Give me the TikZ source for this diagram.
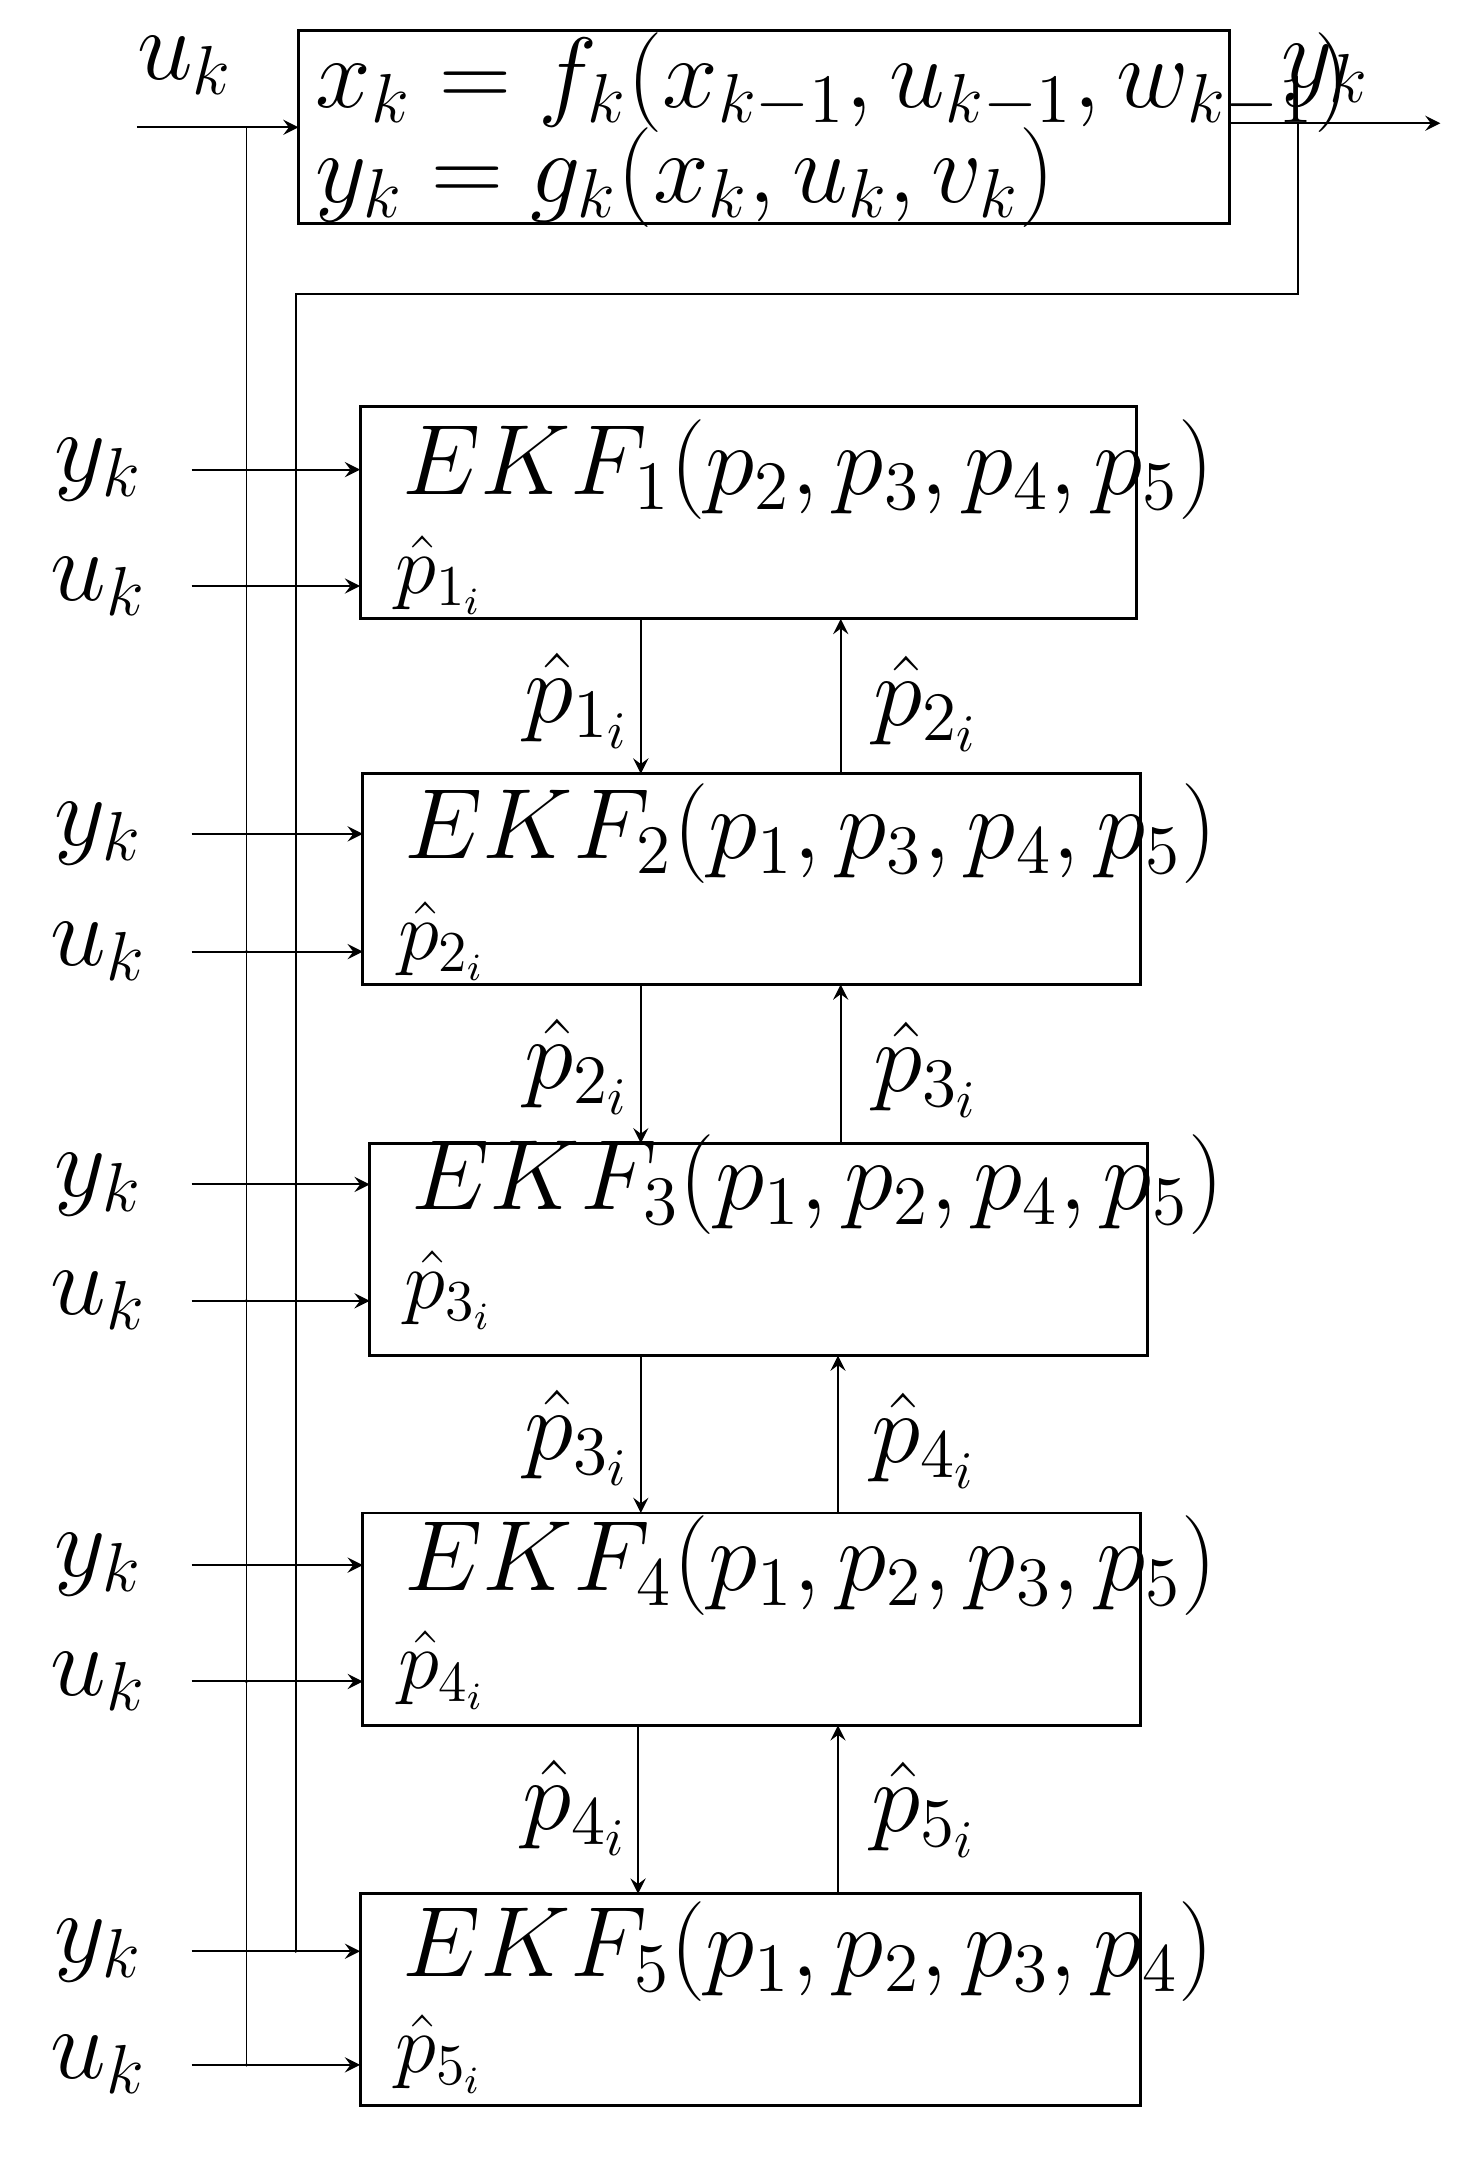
\documentclass[tikz,border=0pt]{standalone}
\usepackage{amsmath}
\begin{document}
\begin{tikzpicture}[x=0.01cm,y=-0.01cm,>=stealth,
  box/.style={draw,semithick,inner sep=0},
  lab/.style={font=\fontsize{21}{24}\selectfont},
  txt/.style={anchor=west,font=\fontsize{17}{20}\selectfont,inner sep=0},
  ln/.style={thin}]
\useasboundingbox (0,0) rectangle (1080,1587);
% top system
\draw[box] (218,22) rectangle (898,163);
\node[txt,font=\fontsize{19.2}{22}\selectfont] (f) at (230,60) {$x_k = f_k(x_{k-1},u_{k-1},w_{k-1})$};
\node[txt,font=\fontsize{19.2}{22}\selectfont] (g) at (230,130) {$y_k = g_k(x_k,u_k,v_k)$};
\node[lab] (uk0) at (135,48) {$u_k$};
\node[lab] (yk0) at (968,55) {$y_k$};
\coordinate (a0) at (100,93);
\coordinate (a1) at (218,93);
\draw[ln,->] (a0) -- (a1);
\coordinate (o0) at (898,90);
\coordinate (o1) at (1052,90);
\draw[ln,->] (o0) -- (o1);
\coordinate (fb0) at (948,90);
\coordinate (fb1) at (948,215);
\coordinate (fb2) at (216,215);
\coordinate (fb3) at (216,1425);
\draw[ln] (fb0) -- (fb1) -- (fb2) -- (fb3);
\coordinate (u0) at (180,93);
\coordinate (u1) at (180,1508);
\draw[ln] (u0) -- (u1);
% EKF boxes
\foreach \i/\xl/\xr/\yt/\yb/\yy/\yu/\args in {
 1/263/830/297/452/343/428/{p_2,p_3,p_4,p_5},
 2/265/833/565/719/609/695/{p_1,p_3,p_4,p_5},
 3/270/838/835/990/865/950/{p_1,p_2,p_4,p_5},
 4/265/833/1105/1260/1143/1228/{p_1,p_2,p_3,p_5},
 5/263/833/1383/1538/1425/1508/{p_1,p_2,p_3,p_4}}{
 \draw[box] (\xl,\yt) rectangle (\xr,\yb);
 \node[txt,font=\fontsize{20.2}{24}\selectfont] (e\i) at (\xl+30,\yy) {$EKF_{\i}(\args)$};
 \node[txt] (h\i) at (\xl+25,\yu-8) {$\hat p_{\i_i}$};
 \node[lab] (ly\i) at (72,\yy) {$y_k$};
 \node[lab] (lu\i) at (72,\yu) {$u_k$};
 \coordinate (sy\i) at (140,\yy);
 \coordinate (ty\i) at (\xl,\yy);
 \coordinate (su\i) at (140,\yu);
 \coordinate (tu\i) at (\xl,\yu);
 \draw[ln,->] (sy\i) -- (ty\i);
 \draw[ln,->] (su\i) -- (tu\i);
 \fill (216,\yy) circle (1.3);
 \fill (180,\yu) circle (1.3);
}
% inter-box arrows
\foreach \i/\j/\yb/\yt/\xd/\xu in {1/2/452/565/468/614, 2/3/719/835/468/614, 3/4/990/1105/468/612, 4/5/1260/1383/466/612}{
 \coordinate (d0\i) at (\xd,\yb);
 \coordinate (d1\i) at (\xd,\yt);
 \coordinate (v0\i) at (\xu,\yt);
 \coordinate (v1\i) at (\xu,\yb);
 \draw[ln,->] (d0\i) -- (d1\i);
 \draw[ln,->] (v0\i) -- (v1\i);
 \node[lab,anchor=east,inner sep=1pt] (dl\i) at (\xd-3,\yb+60) {$\hat p_{\i_i}$};
 \node[lab,anchor=west,inner sep=1pt] (ul\j) at (\xu+20,\yb+62) {$\hat p_{\j_i}$};
}
\end{tikzpicture}
\end{document}
